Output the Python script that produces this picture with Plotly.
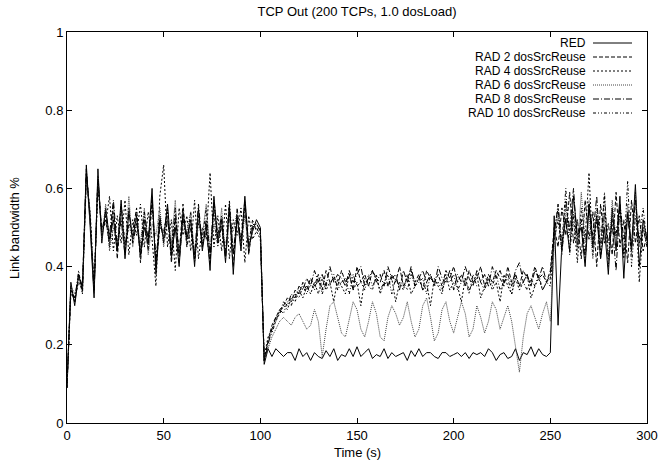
import plotly.graph_objects as go

title_text = "TCP Out (200 TCPs, 1.0 dosLoad)"
x_title = "Time (s)"
y_title = "Link bandwidth %"
x_ticks = [0, 50, 100, 150, 200, 250, 300]
y_ticks = [0, 0.2, 0.4, 0.6, 0.8, 1]
y_ticklabels = ["0", "0.2", "0.4", "0.6", "0.8", "1"]
step_s = 2  # sample spacing in seconds

series_names = ["RED", "RAD 2 dosSrcReuse", "RAD 4 dosSrcReuse",
                "RAD 6 dosSrcReuse", "RAD 8 dosSrcReuse", "RAD 10 dosSrcReuse"]

red = [
    0.09, 0.36, 0.30, 0.38, 0.34, 0.66, 0.50, 0.32, 0.65, 0.46,
    0.55, 0.47, 0.52, 0.44, 0.57, 0.42, 0.54, 0.47, 0.53, 0.43,
    0.50, 0.46, 0.60, 0.38, 0.52, 0.47, 0.56, 0.43, 0.50, 0.40,
    0.54, 0.47, 0.52, 0.40, 0.55, 0.44, 0.51, 0.39, 0.58, 0.46,
    0.52, 0.41, 0.56, 0.38, 0.53, 0.44, 0.58, 0.45, 0.49, 0.52,
    0.50,
    0.15, 0.19, 0.17, 0.19, 0.18, 0.17, 0.18, 0.18, 0.16, 0.19,
    0.17, 0.18, 0.16, 0.18, 0.17, 0.165, 0.185, 0.17, 0.19, 0.16,
    0.175, 0.17, 0.19, 0.17, 0.195, 0.17, 0.18, 0.19, 0.165, 0.175,
    0.17, 0.19, 0.165, 0.18, 0.17, 0.175, 0.18, 0.16, 0.185, 0.17,
    0.19, 0.17, 0.18, 0.18, 0.17, 0.165, 0.18, 0.18, 0.17, 0.175,
    0.18, 0.17, 0.18, 0.165, 0.18, 0.175, 0.18, 0.17, 0.19, 0.18,
    0.16, 0.175, 0.18, 0.165, 0.17, 0.19, 0.16, 0.18, 0.175, 0.195,
    0.17, 0.19, 0.175, 0.17, 0.18,
    0.53, 0.25, 0.46, 0.52, 0.44, 0.58, 0.48, 0.50, 0.40, 0.56,
    0.45, 0.53, 0.42, 0.50, 0.38, 0.55, 0.44, 0.58, 0.37, 0.54,
    0.45, 0.61, 0.40, 0.52, 0.47,
]

rad2 = [
    0.09, 0.34, 0.31, 0.37, 0.35, 0.64, 0.52, 0.34, 0.63, 0.48,
    0.53, 0.45, 0.56, 0.42, 0.55, 0.45, 0.51, 0.49, 0.55, 0.41,
    0.52, 0.44, 0.57, 0.40, 0.50, 0.49, 0.54, 0.41, 0.52, 0.43,
    0.56, 0.45, 0.50, 0.42, 0.53, 0.46, 0.49, 0.41, 0.56, 0.47,
    0.50, 0.43, 0.54, 0.40, 0.55, 0.46, 0.56, 0.43, 0.51, 0.50,
    0.48,
    0.16, 0.21, 0.25, 0.27, 0.29, 0.30, 0.32, 0.31, 0.34, 0.33,
    0.36, 0.34, 0.37, 0.35, 0.38, 0.34, 0.39, 0.36, 0.37, 0.35,
    0.39, 0.36, 0.38, 0.34, 0.40, 0.36, 0.38, 0.35, 0.39, 0.37,
    0.36, 0.39, 0.35, 0.38, 0.36, 0.40, 0.35, 0.37, 0.39, 0.36,
    0.38, 0.34, 0.39, 0.37, 0.36, 0.38, 0.35, 0.39, 0.37, 0.40,
    0.36, 0.38, 0.35, 0.39, 0.36, 0.37, 0.40, 0.35, 0.38, 0.36,
    0.39, 0.37, 0.35, 0.40, 0.36, 0.38, 0.35, 0.39, 0.37, 0.36,
    0.40, 0.37, 0.38, 0.36, 0.39,
    0.50, 0.45, 0.55, 0.48, 0.59, 0.46, 0.52, 0.42, 0.57, 0.47,
    0.54, 0.40, 0.56, 0.46, 0.51, 0.43, 0.59, 0.45, 0.52, 0.41,
    0.57, 0.46, 0.53, 0.44, 0.48,
]

rad4 = [
    0.10, 0.33, 0.32, 0.36, 0.34, 0.62, 0.54, 0.35, 0.60, 0.50,
    0.51, 0.58, 0.44, 0.53, 0.46, 0.57, 0.43, 0.52, 0.48, 0.56,
    0.45, 0.54, 0.47, 0.35, 0.58, 0.66, 0.45, 0.52, 0.39, 0.55,
    0.48, 0.53, 0.44, 0.57, 0.42, 0.50, 0.47, 0.64, 0.45, 0.53,
    0.44, 0.56, 0.42, 0.52, 0.48, 0.55, 0.41, 0.53, 0.47, 0.49,
    0.47,
    0.17, 0.22, 0.24, 0.26, 0.28, 0.30, 0.29, 0.32, 0.31, 0.34,
    0.32, 0.35, 0.33, 0.36, 0.33, 0.37, 0.34, 0.36, 0.31, 0.37,
    0.35, 0.33, 0.38, 0.34, 0.36, 0.30, 0.37, 0.35, 0.34, 0.38,
    0.33, 0.36, 0.35, 0.37, 0.31, 0.36, 0.34, 0.38, 0.33, 0.35,
    0.37, 0.34, 0.36, 0.30, 0.37, 0.35, 0.33, 0.38, 0.34, 0.36,
    0.35, 0.31, 0.37, 0.34, 0.36, 0.38, 0.32, 0.35, 0.37, 0.34,
    0.36, 0.31, 0.38, 0.35, 0.33, 0.37, 0.34, 0.36, 0.38, 0.32,
    0.35, 0.37, 0.34, 0.36, 0.35,
    0.47, 0.52, 0.44, 0.57, 0.49, 0.53, 0.41, 0.55, 0.47, 0.64,
    0.43, 0.52, 0.46, 0.58, 0.40, 0.53, 0.48, 0.56, 0.42, 0.54,
    0.45, 0.59, 0.36, 0.50, 0.46,
]

rad6 = [
    0.09, 0.35, 0.33, 0.37, 0.33, 0.63, 0.51, 0.33, 0.64, 0.47,
    0.56, 0.44, 0.50, 0.46, 0.54, 0.44, 0.58, 0.45, 0.52, 0.46,
    0.55, 0.43, 0.51, 0.48, 0.55, 0.45, 0.53, 0.46, 0.57, 0.42,
    0.51, 0.49, 0.54, 0.43, 0.52, 0.48, 0.56, 0.44, 0.51, 0.46,
    0.55, 0.42, 0.52, 0.49, 0.54, 0.45, 0.53, 0.44, 0.50, 0.51,
    0.49,
    0.16, 0.19, 0.22, 0.24, 0.26, 0.27, 0.26, 0.25, 0.27, 0.28,
    0.26, 0.24, 0.25, 0.29, 0.26, 0.17, 0.24, 0.30, 0.31, 0.27,
    0.23, 0.22, 0.27, 0.31, 0.29, 0.24, 0.22, 0.26, 0.31, 0.28,
    0.22, 0.21, 0.27, 0.30, 0.28, 0.25, 0.27, 0.31, 0.26, 0.22,
    0.24, 0.30, 0.32, 0.27, 0.21, 0.23, 0.29, 0.31, 0.26, 0.23,
    0.27, 0.31, 0.28, 0.22, 0.24, 0.30, 0.27, 0.23, 0.26, 0.31,
    0.29, 0.24, 0.27, 0.30, 0.26, 0.20, 0.13, 0.22, 0.28, 0.30,
    0.27, 0.24, 0.28, 0.31, 0.26,
    0.45, 0.54, 0.43, 0.56, 0.48, 0.51, 0.44, 0.59, 0.46, 0.53,
    0.42, 0.55, 0.49, 0.52, 0.41, 0.57, 0.47, 0.53, 0.44, 0.56,
    0.43, 0.58, 0.45, 0.51, 0.48,
]

rad8 = [
    0.10, 0.34, 0.32, 0.38, 0.35, 0.65, 0.52, 0.33, 0.62, 0.49,
    0.54, 0.48, 0.57, 0.45, 0.52, 0.43, 0.55, 0.46, 0.51, 0.44,
    0.54, 0.47, 0.58, 0.41, 0.53, 0.46, 0.52, 0.44, 0.55, 0.41,
    0.53, 0.48, 0.51, 0.43, 0.56, 0.45, 0.52, 0.43, 0.57, 0.48,
    0.53, 0.42, 0.55, 0.44, 0.52, 0.47, 0.57, 0.44, 0.50, 0.51,
    0.49,
    0.16, 0.20, 0.24, 0.27, 0.28, 0.31, 0.30, 0.33, 0.32, 0.35,
    0.34, 0.37, 0.35, 0.39, 0.36, 0.38, 0.35, 0.40, 0.36, 0.38,
    0.37, 0.35, 0.39, 0.36, 0.38, 0.40, 0.35, 0.37, 0.39, 0.36,
    0.38, 0.35, 0.40, 0.37, 0.38, 0.34, 0.39, 0.36, 0.40, 0.35,
    0.37, 0.39, 0.36, 0.38, 0.35, 0.40, 0.37, 0.36, 0.39, 0.34,
    0.38, 0.36, 0.40, 0.37, 0.35, 0.39, 0.36, 0.38, 0.35, 0.40,
    0.37, 0.39, 0.36, 0.38, 0.35, 0.39, 0.41, 0.36, 0.38, 0.35,
    0.39, 0.37, 0.40, 0.36, 0.38,
    0.48, 0.56, 0.44, 0.53, 0.50, 0.60, 0.45, 0.52, 0.43, 0.55,
    0.48, 0.58, 0.42, 0.54, 0.46, 0.51, 0.39, 0.56, 0.47, 0.53,
    0.44, 0.57, 0.46, 0.50, 0.45,
]

rad10 = [
    0.09, 0.35, 0.31, 0.39, 0.33, 0.64, 0.53, 0.34, 0.63, 0.48,
    0.52, 0.46, 0.54, 0.44, 0.56, 0.46, 0.50, 0.48, 0.54, 0.42,
    0.53, 0.45, 0.56, 0.42, 0.51, 0.48, 0.55, 0.42, 0.53, 0.44,
    0.52, 0.46, 0.54, 0.41, 0.51, 0.47, 0.55, 0.42, 0.54, 0.45,
    0.51, 0.44, 0.57, 0.43, 0.53, 0.45, 0.55, 0.46, 0.52, 0.49,
    0.50,
    0.16, 0.21, 0.23, 0.26, 0.29, 0.28, 0.31, 0.30, 0.33, 0.32,
    0.35, 0.33, 0.36, 0.34, 0.37, 0.33, 0.36, 0.35, 0.38, 0.34,
    0.36, 0.37, 0.33, 0.38, 0.35, 0.36, 0.34, 0.38, 0.35, 0.37,
    0.34, 0.36, 0.38, 0.33, 0.37, 0.35, 0.36, 0.34, 0.38, 0.35,
    0.36, 0.37, 0.33, 0.38, 0.35, 0.36, 0.34, 0.37, 0.36, 0.38,
    0.34, 0.36, 0.37, 0.33, 0.38, 0.35, 0.36, 0.34, 0.37, 0.35,
    0.38, 0.34, 0.36, 0.37, 0.33, 0.38, 0.35, 0.36, 0.34, 0.37,
    0.35, 0.38, 0.34, 0.36, 0.37,
    0.49, 0.55, 0.46, 0.60, 0.43, 0.54, 0.47, 0.52, 0.41, 0.57,
    0.46, 0.53, 0.44, 0.59, 0.42, 0.52, 0.48, 0.55, 0.43, 0.62,
    0.40, 0.53, 0.47, 0.55, 0.46,
]

all_series = [red, rad2, rad4, rad6, rad8, rad10]
dash_styles = ["solid", "4px,2px", "2px,2px", "1px,1px", "6px,2px,1px,2px", "3px,2px,1px,2px,1px,2px"]
line_colors = ["#000000", "#000000", "#000000", "#444444", "#000000", "#000000"]

FONT = "Liberation Sans, Arial, Helvetica, sans-serif"
FS = 13
KEY_FS = 12

# plot-area geometry in pixels
L, R, T, B = 67, 12, 32, 41
W, H = 659, 464
PW, PH = W - L - R, H - T - B

fig = go.Figure()
for name, vals, dash, col in zip(series_names, all_series, dash_styles, line_colors):
    t = [step_s * i for i in range(len(vals))]
    fig.add_trace(go.Scatter(x=t, y=vals, mode="lines", name=name, showlegend=False,
                             line=dict(color=col, width=1, dash=dash)))

# gnuplot-style key: right-aligned text followed by line sample
key_px_y = [43, 57, 71, 85, 99, 113]
text_right_px, samp_x0_px, samp_x1_px = 587, 593, 632
for name, dash, col, py in zip(series_names, dash_styles, line_colors, key_px_y):
    ky = (H - B - py) / PH
    fig.add_annotation(x=(text_right_px - L) / PW, y=ky, xref="paper", yref="paper", text=name,
                       showarrow=False, xanchor="right", yanchor="middle", borderpad=0,
                       font=dict(family=FONT, size=KEY_FS, color="#000"))
    fig.add_shape(type="line", xref="paper", yref="paper",
                  x0=(samp_x0_px - L) / PW, x1=(samp_x1_px - L) / PW,
                  y0=ky, y1=ky, line=dict(color=col, width=1, dash=dash))

# axis titles
fig.add_annotation(x=(357 - L) / PW, y=(H - B - 452) / PH, xref="paper", yref="paper",
                   text=x_title, showarrow=False, xanchor="center", yanchor="middle",
                   font=dict(family=FONT, size=FS, color="#000"))
fig.add_annotation(x=(14 - L) / PW, y=(H - B - 228) / PH, xref="paper", yref="paper",
                   text=y_title, showarrow=False, xanchor="center", yanchor="middle",
                   textangle=-90, font=dict(family=FONT, size=FS, color="#000"))

fig.update_layout(
    width=W, height=H, autosize=False,
    margin=dict(l=L, r=R, t=T, b=B, pad=0),
    paper_bgcolor="white", plot_bgcolor="white",
    font=dict(family=FONT, size=FS, color="#000"),
    title=dict(text=title_text, x=(L + PW / 2) / W, xanchor="center", y=1 - 11 / H,
               yanchor="middle", font=dict(family=FONT, size=FS)),
    xaxis=dict(range=[0, 300], tickvals=x_ticks, ticktext=[str(v) for v in x_ticks],
               ticks="inside", ticklen=5, tickcolor="#000", showline=True, linecolor="#000",
               linewidth=1, mirror="ticks", showgrid=False, zeroline=False, automargin=False,
               tickfont=dict(size=FS)),
    yaxis=dict(range=[0, 1], tickvals=y_ticks, ticktext=y_ticklabels,
               ticks="inside", ticklen=5, tickcolor="#000", showline=True, linecolor="#000",
               linewidth=1, mirror="ticks", showgrid=False, zeroline=False, automargin=False,
               tickfont=dict(size=FS)),
)

fig.write_html("out.html", config={"responsive": False, "displayModeBar": False},
               post_script="document.body.style.margin='0';document.body.style.overflow='hidden';")
